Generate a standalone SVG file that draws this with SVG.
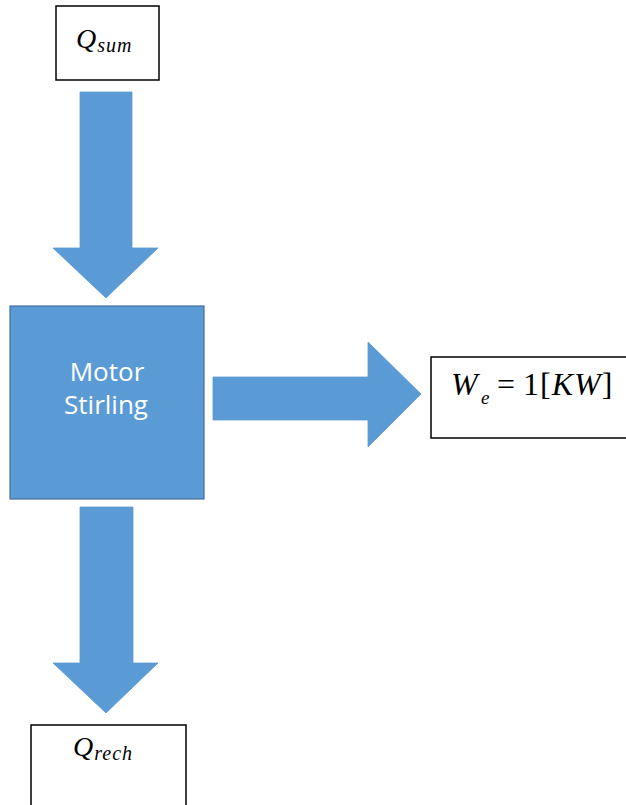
<svg xmlns="http://www.w3.org/2000/svg" width="626" height="805" viewBox="0 0 626 805">
<style>
.lbl{fill:#fff;stroke:#000;stroke-width:1.5}
.arrow{fill:#5B9BD5;stroke:#5B9BD5;stroke-width:0.8;stroke-linejoin:miter}
.main{fill:#5B9BD5;stroke:#41719C;stroke-width:1.2}
.math{font-family:"Liberation Serif","DejaVu Serif",serif;fill:#000}
.it{font-style:italic}
.sub{font-size:20px;letter-spacing:1px}
.mt{font-family:"Open Sans","Liberation Sans",sans-serif;font-size:26px;fill:#fff;text-anchor:middle}
</style>
<rect width="626" height="805" fill="#fff"/>
<g id="connectors">
<polygon class="arrow" points="80,92 132,92 132,248 158,248 106,298 53,248 80,248"/>
<polygon class="arrow" points="213,377 368,377 368,342 421,394 368,447 368,420 213,420"/>
<polygon class="arrow" points="80,507 133,507 133,663 158,663 106,713 53,663 80,663"/>
</g>
<g id="q-sum">
<rect class="lbl" x="56" y="6" width="103" height="74"/>
<text class="math it" x="76" y="48" font-size="28">Q<tspan class="sub" dx="1" dy="4">sum</tspan></text>
</g>
<g id="motor-stirling">
<rect class="main" x="10" y="306" width="194" height="193"/>
<text class="mt" x="107" y="381">Motor</text>
<text class="mt" x="106" y="414">Stirling</text>
</g>
<g id="w-e">
<rect class="lbl" x="431" y="357" width="200" height="81"/>
<text class="math" y="395" font-size="32"><tspan class="it" x="451">W</tspan><tspan class="it" x="481" dy="9" font-size="19">e</tspan><tspan x="497" dy="-9">=</tspan><tspan x="523" letter-spacing="1">1[</tspan><tspan class="it" letter-spacing="1">KW</tspan><tspan>]</tspan></text>
</g>
<g id="q-rech">
<rect class="lbl" x="31" y="725" width="155" height="84"/>
<text class="math it" x="73" y="756" font-size="28">Q<tspan class="sub" dx="1" dy="4">rech</tspan></text>
</g>
</svg>
